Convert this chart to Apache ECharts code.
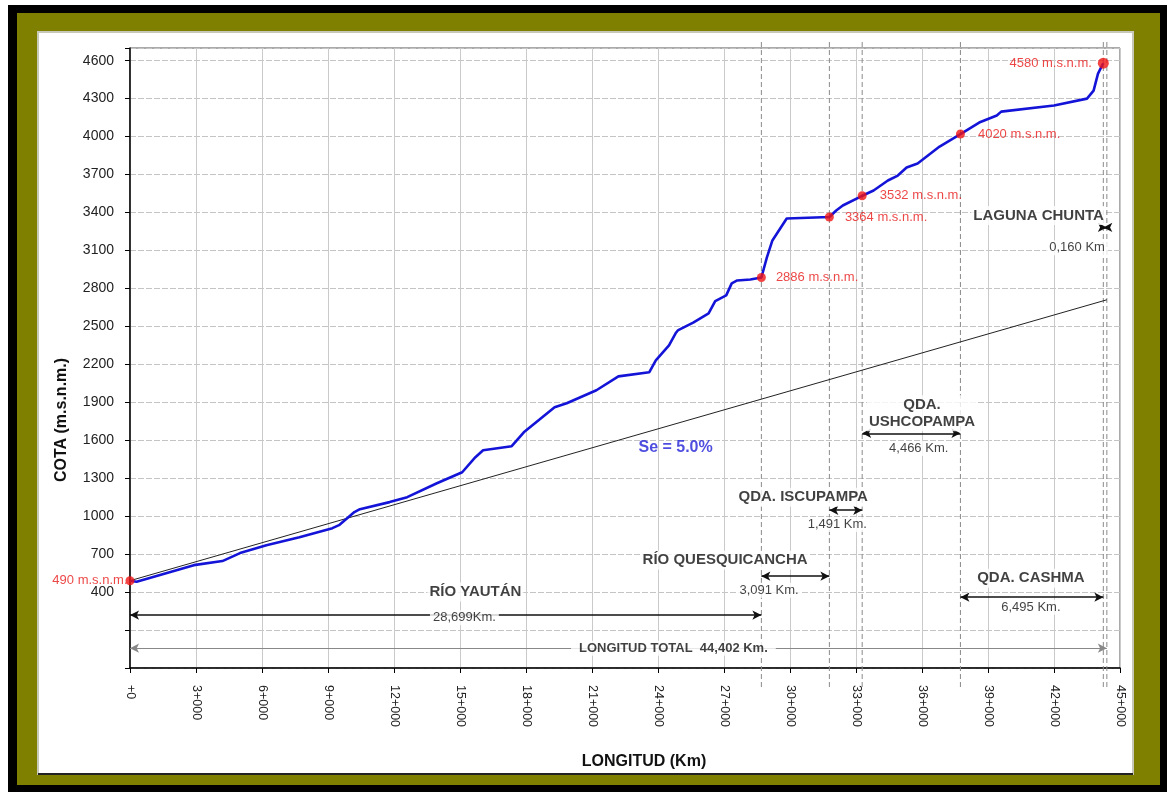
<!DOCTYPE html>
<html>
<head>
<meta charset="utf-8">
<title>Perfil longitudinal</title>
<script src="https://cdn.jsdelivr.net/npm/echarts@6/dist/echarts.min.js"></script>
<style>
  html, body { margin: 0; padding: 0; background: #fff; }
  #chart { width: 1175px; height: 792px; }
</style>
</head>
<body>
<div id="chart"></div>
<script>
// perfil del cauce: progresiva (km) / cota (m.s.n.m.)
const profileKm = [0, 0.3, 2.9, 4.2, 5.0, 6.2, 7.7, 9.2, 9.5, 10.2, 10.45, 11.8, 12.6, 13.95,
  15.1, 15.7, 16.05, 17.35, 17.9, 19.3, 19.85, 21.2, 22.2, 23.6, 23.9, 24.5, 24.8, 24.9,
  25.6, 26.3, 26.6, 27.1, 27.35, 27.6, 28.2, 28.699, 28.95, 29.2, 29.85, 31.79, 32.1, 32.4,
  33.281, 33.8, 34.45, 34.9, 35.3, 35.8, 36.8, 37.747, 38.6, 39.4, 39.6, 42.0, 43.5, 43.8,
  44.0, 44.242]
const profileCota = [490, 481, 613, 645, 708, 771, 834, 905, 929, 1032, 1055, 1111, 1150, 1260,
  1347, 1466, 1521, 1553, 1663, 1861, 1892, 1995, 2105, 2137, 2232, 2350, 2445, 2468,
  2530, 2602, 2700, 2745, 2840, 2863, 2871, 2886, 3045, 3179, 3353, 3364, 3416, 3455,
  3532, 3574, 3653, 3692, 3755, 3787, 3921, 4020, 4111, 4166, 4197, 4245, 4300, 4363,
  4497, 4580]

// pendiente media Se = 5.0%
const slopeKm = [0, 44.402]
const slopeCota = [490, 2710]

// puntos notables
const hitoKm = [0, 28.699, 31.79, 33.281, 37.747, 44.242]
const hitoCota = [490, 2886, 3364, 3532, 4020, 4580]

// tramos
const tramoNames = ['RÍO YAUTÁN', 'RÍO QUESQUICANCHA', 'QDA. ISCUPAMPA', 'QDA.\nUSHCOPAMPA', 'QDA. CASHMA', 'LAGUNA CHUNTA']
const tramoLengths = [28.699, 3.091, 1.491, 4.466, 6.495, 0.160]
const tramoLabels = ['28,699Km.', '3,091 Km.', '1,491 Km.', '4,466 Km.', '6,495 Km.', '0,160 Km']
const totalLength = 44.402
const totalLabel = 'LONGITUD TOTAL  44,402 Km.'

const FONT = '"Liberation Sans", Arial, sans-serif'

// limites de tramos (acumulado)
const bounds = [0]
tramoLengths.forEach(l => bounds.push(+(bounds[bounds.length - 1] + l).toFixed(3)))

// ubicacion de las anotaciones (unidades de datos)
const tramoLayout = [
  { arrowY: 218, nameX: 15.7, nameY: 400, lenX: 15.2, lenY: 197 },
  { arrowY: 526, nameX: 27.05, nameY: 652, lenX: 29.05, lenY: 414 },
  { arrowY: 1047, nameX: 30.6, nameY: 1150, lenX: 32.15, lenY: 935 },
  { arrowY: 1655, nameX: 36.0, nameY: 1813, lenX: 35.85, lenY: 1535 },
  { arrowY: 360, nameX: 40.95, nameY: 510, lenX: 40.95, lenY: 280 },
  { arrowY: 3282, nameX: 41.3, nameY: 3376, lenX: 43.05, lenY: 3122 }
]
const totalLayout = { arrowY: -43, labelX: 24.7 }
const hitoLabelPos = [
  { position: 'left', distance: -2 },
  { position: 'right', distance: 10 },
  { position: 'right', distance: 11 },
  { position: 'right', distance: 13 },
  { position: 'right', distance: 13 },
  { position: 'left', distance: 6 }
]

const arrowLines = tramoLengths.map((l, i) => [
  { coord: [bounds[i], tramoLayout[i].arrowY] },
  { coord: [bounds[i + 1], tramoLayout[i].arrowY] }
])
const totalArrow = [
  { coord: [0, totalLayout.arrowY], lineStyle: { color: '#888', width: 1 } },
  { coord: [totalLength, totalLayout.arrowY] }
]

const textItems = []
tramoNames.forEach((n, i) => {
  textItems.push({
    value: [tramoLayout[i].nameX, tramoLayout[i].nameY],
    label: { formatter: n, fontWeight: 'bold', fontSize: 15, lineHeight: 17 }
  })
  textItems.push({
    value: [tramoLayout[i].lenX, tramoLayout[i].lenY],
    label: { formatter: tramoLabels[i], fontSize: 13, padding: [1, 3] }
  })
})
textItems.push({
  value: [totalLayout.labelX, totalLayout.arrowY],
  label: { formatter: totalLabel, fontSize: 13, fontWeight: 'bold', padding: [1, 8] }
})
textItems.push({
  value: [24.8, 1545],
  label: { formatter: 'Se = 5.0%', fontSize: 16, fontWeight: 'bold', color: '#2020d8', backgroundColor: 'transparent' }
})

const chart = echarts.init(document.getElementById('chart'), null, { renderer: 'canvas' })

const frameGraphics = [
  { type: 'rect', z: -10, silent: true, shape: { x: 8, y: 5, width: 1159, height: 787 }, style: { fill: '#000' } },
  { type: 'rect', z: -9, silent: true, shape: { x: 17, y: 13, width: 1143, height: 772 }, style: { fill: '#808000' } },
  { type: 'rect', z: -8, silent: true, shape: { x: 38, y: 32, width: 1095, height: 742 }, style: { fill: '#fff', stroke: '#c8c8b8', lineWidth: 2 } },
  { type: 'line', z: -7, silent: true, shape: { x1: 38, y1: 774, x2: 1133, y2: 774 }, style: { stroke: '#222', lineWidth: 2 } },
  {
    type: 'text', x: 62, y: 420, rotation: Math.PI / 2, silent: true,
    style: { text: 'COTA (m.s.n.m.)', font: 'bold 16px ' + FONT, fill: '#111', align: 'center', verticalAlign: 'middle' }
  },
  {
    type: 'text', x: 644, y: 762, silent: true,
    style: { text: 'LONGITUD (Km)', font: 'bold 16px ' + FONT, fill: '#111', align: 'center', verticalAlign: 'middle' }
  }
]

chart.setOption({
  animation: false,
  textStyle: { fontFamily: FONT },
  grid: {
    left: 130, right: 55, top: 48, bottom: 124,
    show: true, borderColor: '#555', borderWidth: 1, backgroundColor: 'transparent'
  },
  graphic: frameGraphics,
  xAxis: {
    type: 'value', min: 0, max: 45, interval: 3,
    axisLine: { show: true, onZero: false, lineStyle: { color: '#000', width: 1.5 } },
    axisTick: { show: true, length: 5, lineStyle: { color: '#000' } },
    axisLabel: {
      rotate: -90, margin: 17, fontSize: 12.5, color: '#222', fontFamily: FONT,
      formatter: v => v === 0 ? '+0' : v + '+000'
    },
    splitLine: { show: true, lineStyle: { color: '#cacaca', width: 1 } }
  },
  yAxis: {
    type: 'value', min: -200, max: 4700, interval: 300,
    axisLine: { show: true, lineStyle: { color: '#000', width: 1.5 } },
    axisTick: { show: true, length: 5, lineStyle: { color: '#000' } },
    axisLabel: {
      margin: 16, fontSize: 14, color: '#222', fontFamily: FONT,
      formatter: v => (v >= 400 && v <= 4600) ? String(v) : ''
    },
    splitLine: { show: true, lineStyle: { color: '#c4c4c4', width: 1, type: [6, 2] } }
  },
  series: [
    {
      name: 'Se',
      type: 'line',
      data: slopeKm.map((k, i) => [k, slopeCota[i]]),
      showSymbol: false,
      lineStyle: { color: '#222', width: 1 },
      markLine: {
        silent: true, animation: false,
        symbol: ['arrow', 'arrow'], symbolSize: [7, 9],
        label: { show: false },
        lineStyle: { color: '#111', width: 1.5, type: 'solid' },
        data: arrowLines.concat([totalArrow])
      }
    },
    {
      name: 'Perfil',
      type: 'line',
      data: profileKm.map((k, i) => [k, profileCota[i]]),
      showSymbol: false,
      z: 4,
      lineStyle: { color: '#1414d8', width: 2.6 }
    },
    {
      name: 'Hitos',
      type: 'scatter',
      z: 5,
      itemStyle: { color: '#f01414' },
      data: hitoKm.map((k, i) => ({
        value: [k, hitoCota[i]],
        symbolSize: i === hitoKm.length - 1 ? 11 : 9,
        label: {
          show: true, position: hitoLabelPos[i].position, distance: hitoLabelPos[i].distance,
          formatter: hitoCota[i] + ' m.s.n.m.', color: '#e81818', fontSize: 13, fontFamily: FONT
        }
      }))
    },
    {
      name: 'Textos',
      type: 'scatter',
      z: 6,
      symbolSize: 1,
      itemStyle: { color: 'transparent' },
      label: {
        show: true, position: 'inside', color: '#111', fontFamily: FONT,
        backgroundColor: '#fff', padding: [1, 2]
      },
      data: textItems
    }
  ]
})

// lineas divisorias de tramos: sobresalen un poco del area del grafico
const [, yTop] = chart.convertToPixel({ gridIndex: 0 }, [0, 4700])
const [, yBottom] = chart.convertToPixel({ gridIndex: 0 }, [0, -200])
const dividers = bounds.slice(1).map(b => {
  const [px] = chart.convertToPixel({ gridIndex: 0 }, [b, 0])
  return {
    type: 'line', z: 1, silent: true,
    shape: { x1: px, y1: yTop - 6, x2: px, y2: yBottom + 22 },
    style: { stroke: '#8a8a8a', lineWidth: 1, lineDash: [5, 3] }
  }
})
chart.setOption({ graphic: frameGraphics.concat(dividers) })
</script>
</body>
</html>
